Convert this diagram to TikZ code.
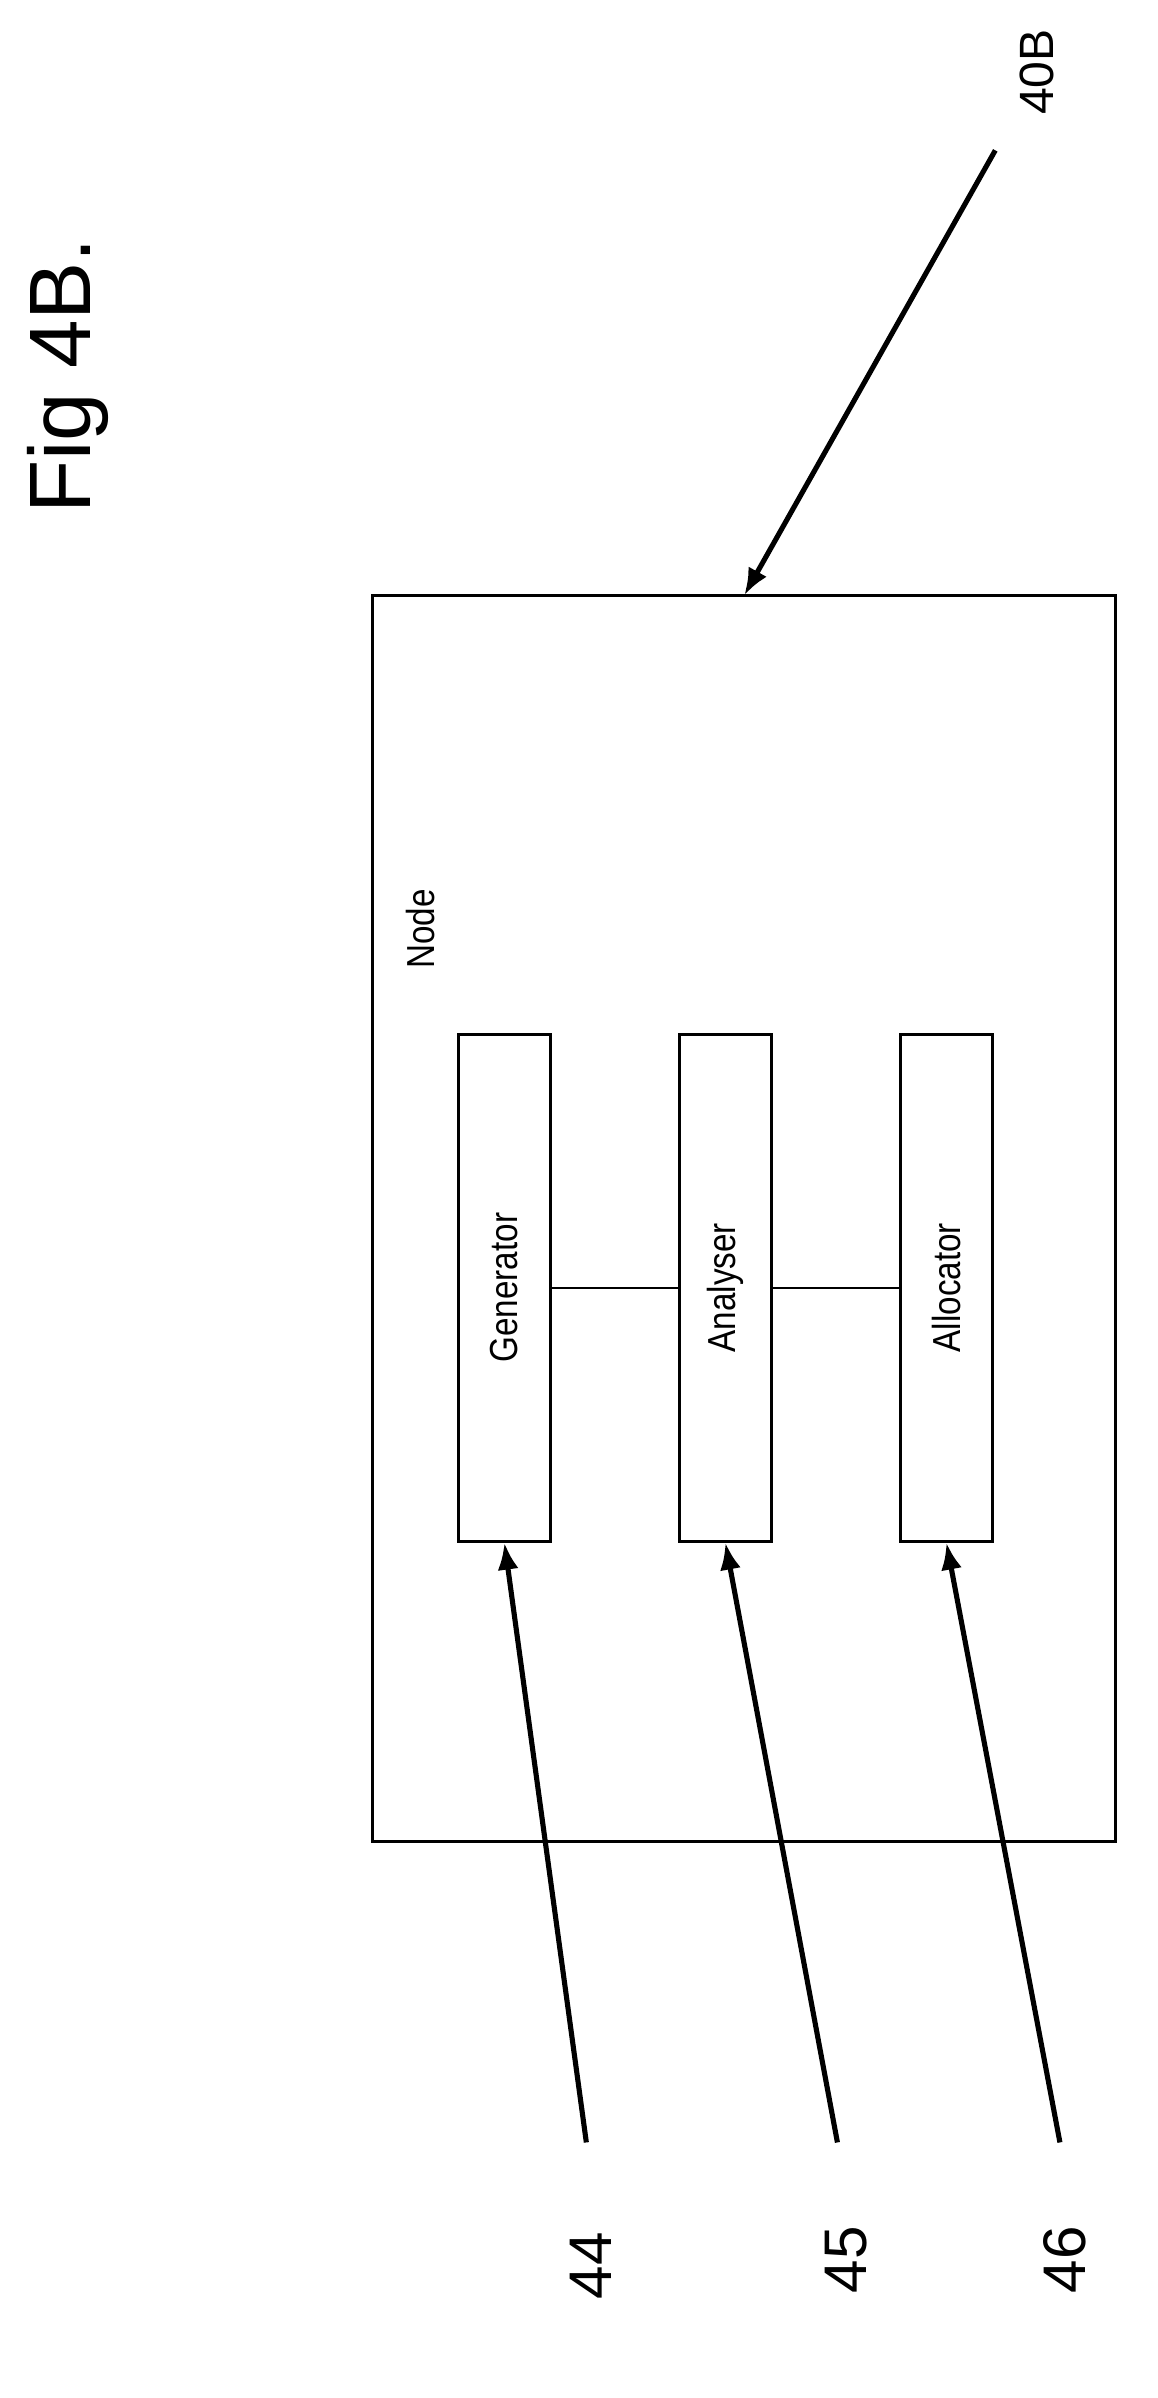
\documentclass[tikz,border=0pt]{standalone}
\usetikzlibrary{arrows.meta}
\usepackage{fontspec}
\setmainfont{Liberation Sans}
\begin{document}
\begin{tikzpicture}[x=1pt,y=-1pt,
  box/.style={draw,line width=2pt},
  arr/.style={line width=3.4pt,-{Latex[length=18pt,width=14pt]}},
  lbl/.style={rotate=90,inner sep=0pt},
  every node/.style={font=\fontsize{26}{30}\selectfont}]
\useasboundingbox (0,0) rectangle (770,1595);
\draw[box] (248,396) rectangle (742,1225);
\node[box,minimum width=61pt,minimum height=337pt] (gen) at (335.5,856.5) {};
\node[box,minimum width=61pt,minimum height=337pt] (ana) at (482.5,856.5) {};
\node[box,minimum width=61pt,minimum height=337pt] (all) at (629.5,856.5) {};
\node[lbl,xscale=0.85] at (gen.center) {Generator};
\node[lbl,xscale=0.85] at (ana.center) {Analyser};
\node[lbl,xscale=0.85] at (all.center) {Allocator};
\draw[line width=1.2pt] (gen.east) -- (ana.west) (ana.east) -- (all.west);
\node[lbl,xscale=0.85] (nd) at (280,618) {Node};
\node[lbl,font=\fontsize{58}{64}\selectfont] (fig) at (45,250) {Fig 4B.};
\node[lbl,font=\fontsize{32}{36}\selectfont] (l40) at (690,48) {40B};
\coordinate (s40) at (662,100);
\coordinate (e40) at (495,396);
\draw[arr] (s40) -- (e40);
\node[lbl,font=\fontsize{40}{44}\selectfont] (l44) at (393,1507) {44};
\node[lbl,font=\fontsize{40}{44}\selectfont] (l45) at (563,1503) {45};
\node[lbl,font=\fontsize{40}{44}\selectfont] (l46) at (708,1503) {46};
\coordinate (s44) at (390,1425);
\coordinate (s45) at (557,1425);
\coordinate (s46) at (705,1425);
\draw[arr] (s44) -- (gen.south);
\draw[arr] (s45) -- (ana.south);
\draw[arr] (s46) -- (all.south);
\end{tikzpicture}
\end{document}
